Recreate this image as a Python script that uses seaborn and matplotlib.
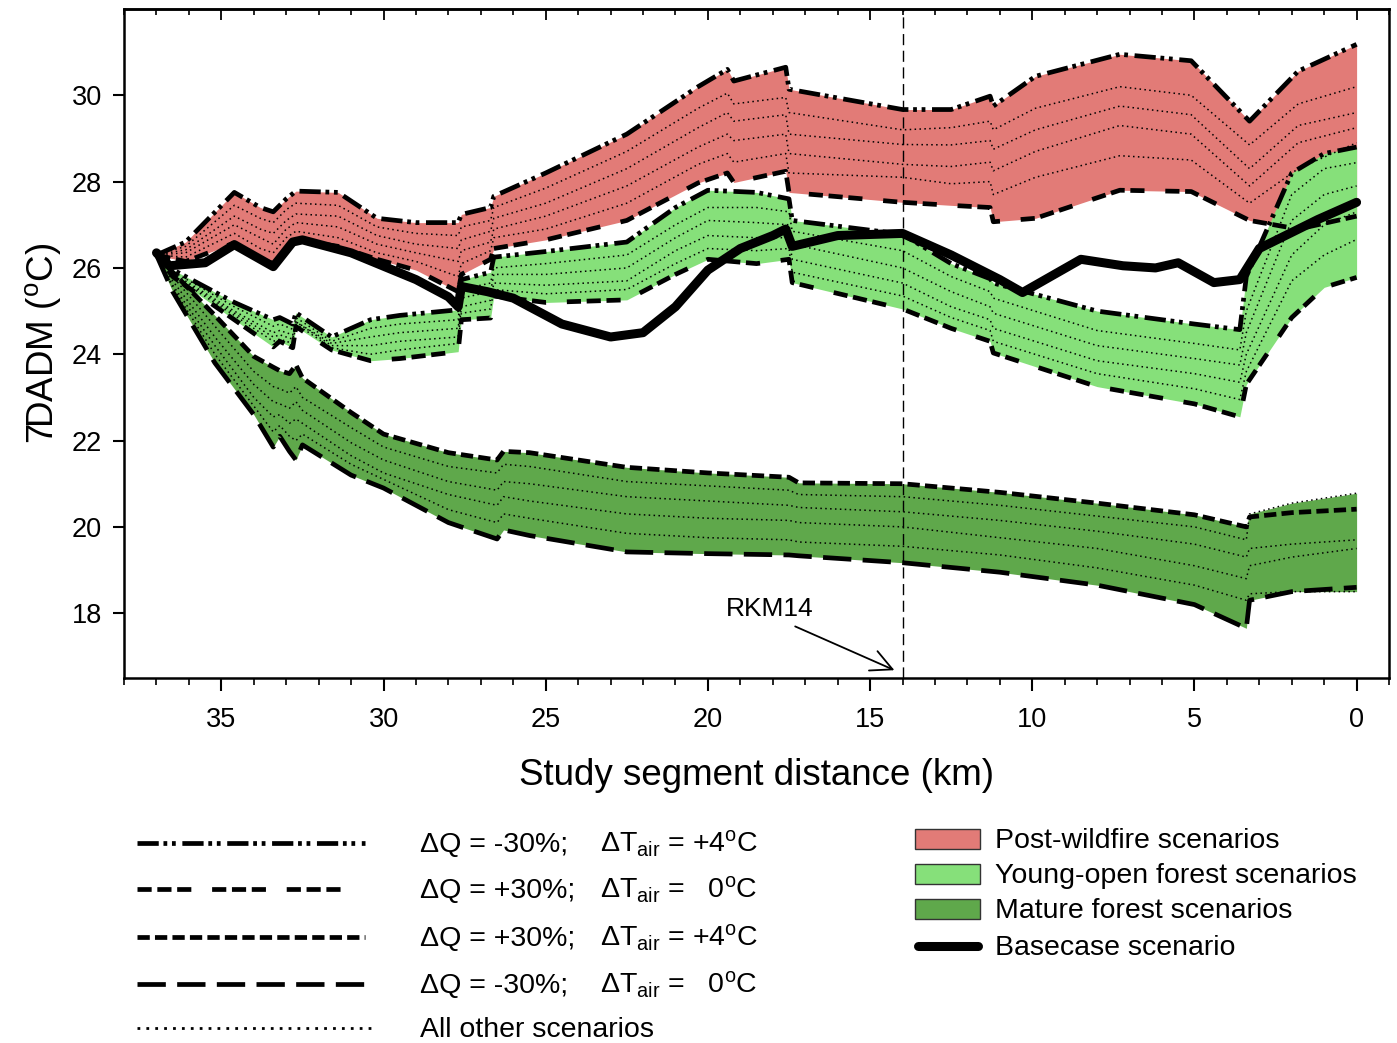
import numpy as np
import matplotlib
matplotlib.use('Agg')
import matplotlib.pyplot as plt
import seaborn as sns
from matplotlib.lines import Line2D
from matplotlib.patches import Rectangle
from matplotlib.ticker import MultipleLocator

# ---- Post-wildfire scenarios (red band) ----
fire_km = [37, 36.1, 34.6, 33.8, 33.4, 33.0, 32.7, 31.4, 30.2, 29.0, 27.7, 27.6, 26.7, 26.6, 25.0,
           22.5, 20.3, 19.4, 19.2, 17.6, 17.5, 14.0, 12.5, 11.3, 11.2, 9.9, 7.3, 5.1, 3.3, 1.8, 0.0]
fire_m30_p4 = [26.3, 26.6, 27.75, 27.4, 27.3, 27.6, 27.78, 27.75, 27.15, 27.05, 27.05, 27.24, 27.4, 27.66, 28.2,
               29.1, 30.2, 30.6, 30.33, 30.65, 30.14, 29.67, 29.67, 29.98, 29.75, 30.44, 30.95, 30.8, 29.4, 30.56, 31.18]
fire_p30_0 = [26.3, 26.15, 26.58, 26.2, 26.1, 26.5, 26.65, 26.5, 26.2, 25.95, 25.45, 25.85, 26.2, 26.45, 26.65,
              27.1, 27.97, 28.2, 27.98, 28.24, 27.75, 27.52, 27.45, 27.4, 27.07, 27.15, 27.8, 27.77, 27.1, 26.9, 27.2]
fire_other1 = [26.3, 26.5, 27.45, 27.15, 27.05, 27.35, 27.5, 27.45, 26.95, 26.8, 26.75, 26.95, 27.1, 27.4, 27.85,
               28.7, 29.7, 30.05, 29.8, 29.95, 29.6, 29.2, 29.25, 29.4, 29.2, 29.7, 30.2, 30.0, 28.85, 29.8, 30.2]
fire_other2 = [26.3, 26.42, 27.2, 26.9, 26.8, 27.1, 27.25, 27.2, 26.75, 26.55, 26.45, 26.65, 26.85, 27.15, 27.5,
               28.3, 29.25, 29.6, 29.4, 29.55, 29.1, 28.86, 28.85, 28.95, 28.75, 29.2, 29.75, 29.55, 28.3, 29.3, 29.6]
fire_other3 = [26.3, 26.35, 27.0, 26.7, 26.55, 26.9, 27.05, 26.95, 26.55, 26.35, 26.15, 26.4, 26.6, 26.9, 27.2,
               27.9, 28.8, 29.1, 28.95, 29.1, 28.65, 28.4, 28.35, 28.45, 28.25, 28.7, 29.3, 29.1, 27.9, 28.9, 29.25]
fire_other4 = [26.3, 26.25, 26.8, 26.45, 26.35, 26.7, 26.85, 26.7, 26.35, 26.15, 25.8, 26.1, 26.4, 26.7, 26.9,
               27.5, 28.4, 28.65, 28.45, 28.65, 28.2, 28.1, 27.95, 28.0, 27.7, 28.1, 28.6, 28.5, 27.5, 28.3, 28.9]

# ---- Young-open forest scenarios (light green band) ----
young_km = [37, 36.5, 34.6, 33.4, 33.2, 32.8, 32.7, 31.6, 30.4, 29.5, 27.7, 27.6, 26.7, 26.6, 25.0, 22.5,
            21.0, 20.0, 18.5, 17.5, 17.4, 14.0, 12.5, 11.3, 11.2, 8.0, 5.0, 3.6, 3.4, 2.0, 1.0, 0.0]
young_m30_p4 = [26.3, 25.96, 25.2, 24.8, 24.85, 24.7, 24.96, 24.4, 24.8, 24.9, 25.03, 25.73, 25.9, 26.25, 26.38, 26.6,
                27.4, 27.8, 27.75, 27.6, 27.1, 26.78, 26.1, 25.75, 25.65, 25.0, 24.7, 24.57, 25.8, 28.2, 28.65, 28.8]
young_p30_0 = [26.3, 25.8, 24.8, 24.17, 24.3, 24.15, 24.64, 24.1, 23.85, 23.9, 24.06, 24.8, 24.84, 25.35, 25.2, 25.26,
               25.85, 26.2, 26.1, 26.2, 25.66, 25.05, 24.6, 24.3, 24.03, 23.25, 22.85, 22.55, 23.3, 24.85, 25.55, 25.78]
young_other1 = [26.3, 25.92, 25.1, 24.65, 24.7, 24.58, 24.85, 24.3, 24.6, 24.7, 24.8, 25.5, 25.65, 26.0, 26.1, 26.3,
                27.0, 27.4, 27.4, 27.3, 26.85, 26.4, 25.8, 25.45, 25.3, 24.55, 24.25, 24.1, 25.0, 27.7, 28.3, 28.44]
young_other2 = [26.3, 25.88, 25.0, 24.5, 24.55, 24.45, 24.75, 24.25, 24.4, 24.5, 24.6, 25.3, 25.45, 25.85, 25.85, 26.0,
                26.7, 27.1, 27.05, 27.0, 26.55, 26.0, 25.45, 25.1, 24.95, 24.2, 23.9, 23.75, 24.5, 27.1, 27.7, 27.9]
young_other3 = [26.3, 25.85, 24.95, 24.4, 24.45, 24.35, 24.75, 24.2, 24.2, 24.3, 24.4, 25.1, 25.25, 25.65, 25.6, 25.7,
                26.4, 26.75, 26.7, 26.7, 26.2, 25.65, 25.1, 24.8, 24.6, 23.85, 23.55, 23.35, 24.0, 26.3, 27.0, 27.3]
young_other4 = [26.3, 25.82, 24.9, 24.3, 24.35, 24.25, 24.7, 24.15, 24.0, 24.1, 24.25, 24.95, 25.05, 25.5, 25.4, 25.5,
                26.1, 26.45, 26.4, 26.45, 25.9, 25.35, 24.85, 24.55, 24.3, 23.55, 23.2, 22.95, 23.6, 25.7, 26.3, 26.66]

# ---- Mature forest scenarios (dark green band) ----
mature_km = [37, 36.5, 35.2, 34.0, 33.4, 33.2, 32.9, 32.7, 32.5, 31.0, 30.0, 28.0, 26.5, 26.3, 25.5, 22.5,
             20.0, 17.5, 17.2, 14.0, 11.0, 8.0, 5.0, 3.4, 3.3, 2.0, 0.0]
mature_p30_p4 = [26.3, 25.9, 24.9, 23.95, 23.7, 23.62, 23.55, 23.75, 23.45, 22.65, 22.15, 21.72, 21.55, 21.75, 21.72, 21.38,
                 21.25, 21.15, 21.02, 21.0, 20.8, 20.55, 20.28, 20.0, 20.23, 20.33, 20.41]
mature_m30_0 = [26.3, 25.45, 23.8, 22.6, 21.85, 22.1, 21.75, 21.55, 21.9, 21.2, 20.9, 20.1, 19.72, 19.93, 19.8, 19.42,
                19.38, 19.35, 19.33, 19.17, 18.95, 18.65, 18.2, 17.65, 18.3, 18.5, 18.6]
mature_other1 = [26.3, 25.8, 24.65, 23.6, 23.25, 23.2, 23.1, 23.25, 23.0, 22.3, 21.85, 21.4, 21.25, 21.45, 21.4, 21.05,
                 20.95, 20.85, 20.75, 20.7, 20.5, 20.25, 20.0, 19.7, 20.3, 20.55, 20.78]
mature_other2 = [26.3, 25.7, 24.4, 23.3, 22.9, 22.85, 22.75, 22.9, 22.7, 21.95, 21.55, 21.05, 20.85, 21.05, 21.0, 20.7,
                 20.6, 20.5, 20.45, 20.35, 20.15, 19.9, 19.6, 19.3, 19.5, 19.6, 19.7]
mature_other3 = [26.3, 25.6, 24.2, 23.0, 22.55, 22.6, 22.4, 22.5, 22.4, 21.65, 21.25, 20.75, 20.5, 20.7, 20.6, 20.3,
                 20.2, 20.15, 20.1, 20.0, 19.75, 19.5, 19.1, 18.8, 19.1, 19.3, 19.5]
mature_other4 = [26.3, 25.55, 24.0, 22.8, 22.2, 22.35, 22.1, 22.0, 22.15, 21.45, 21.1, 20.4, 20.1, 20.3, 20.2, 19.85,
                 19.75, 19.7, 19.65, 19.55, 19.35, 19.05, 18.65, 18.3, 18.45, 18.5, 18.5]

# ---- Basecase scenario ----
base_km = [37, 36.6, 35.5, 34.6, 33.4, 32.8, 32.5, 31.0, 29.0, 28.0, 27.7, 27.6, 26.8, 26.0, 24.5, 23.0, 22.0,
           21.0, 20.0, 19.0, 18.0, 17.6, 17.4, 16.0, 14.0, 12.5, 11.0, 10.3, 8.5, 7.2, 6.2, 5.5, 4.4, 3.6, 3.0, 1.2, 0]
base_temp = [26.35, 26.05, 26.12, 26.54, 26.03, 26.6, 26.65, 26.35, 25.73, 25.33, 25.1, 25.57, 25.45, 25.3, 24.7, 24.4, 24.5,
             25.1, 25.95, 26.45, 26.75, 26.9, 26.5, 26.75, 26.8, 26.3, 25.73, 25.43, 26.2, 26.05, 26.0, 26.12, 25.66, 25.73,
             26.45, 27.12, 27.52]

rkm_mark = 14

# line styles for the scenario boundaries (dash units scale with linewidth)
STYLES = {
    'm30_p4': (0, (4.5, 1.0, 0.8, 1.0, 0.8, 1.4)),
    'p30_0': (0, (3, 1.2, 3, 1.2, 3, 4.4)),
    'p30_p4': (0, (2.6, 1.1)),
    'm30_0': (0, (6, 2.4)),
    'other': (0, (1, 2.2)),
}
FIRE_C = '#E27B77'
YOUNG_C = '#86E07A'
MATURE_C = '#5FA84B'

sns.set_theme(style='ticks')
plt.rcParams['font.family'] = ['Liberation Sans', 'DejaVu Sans']
plt.rcParams['mathtext.fontset'] = 'custom'
plt.rcParams['mathtext.rm'] = 'Liberation Sans'
plt.rcParams['mathtext.it'] = 'Liberation Sans'
plt.rcParams['mathtext.default'] = 'regular'
for k in ['text.color', 'axes.labelcolor', 'xtick.color', 'ytick.color', 'axes.edgecolor']:
    plt.rcParams[k] = 'black'

fig = plt.figure(figsize=(13.97, 10.43), dpi=100)
ax = fig.add_axes([0.0888, 0.350, 0.9055, 0.6414])


def draw_band(km, bounds, others, color):
    allv = np.vstack([b[0] for b in bounds] + others)
    ax.fill_between(km, allv.max(axis=0), allv.min(axis=0), color=color, lw=0, zorder=1)
    for o in others:
        sns.lineplot(x=km, y=o, ax=ax, estimator=None, sort=False, color='black',
                     lw=1.1, linestyle=STYLES['other'], zorder=2)
    for vals, key in bounds:
        sns.lineplot(x=km, y=vals, ax=ax, estimator=None, sort=False, color='black',
                     lw=3.4, linestyle=STYLES[key], zorder=3)


draw_band(fire_km, [(fire_m30_p4, 'm30_p4'), (fire_p30_0, 'p30_0')],
          [fire_other1, fire_other2, fire_other3, fire_other4], FIRE_C)
draw_band(mature_km, [(mature_p30_p4, 'p30_p4'), (mature_m30_0, 'm30_0')],
          [mature_other1, mature_other2, mature_other3, mature_other4], MATURE_C)
draw_band(young_km, [(young_m30_p4, 'm30_p4'), (young_p30_0, 'p30_0')],
          [young_other1, young_other2, young_other3, young_other4], YOUNG_C)

sns.lineplot(x=base_km, y=base_temp, ax=ax, estimator=None, sort=False, color='black',
             lw=6.5, zorder=5, solid_capstyle='round', solid_joinstyle='round')

ax.axvline(rkm_mark, color='black', lw=1.0, linestyle=(0, (8, 4)), zorder=6)
ax.annotate('RKM14', xy=(rkm_mark + 0.25, 16.68), xytext=(18.1, 18.1),
            fontsize=19, ha='center', va='center',
            arrowprops=dict(arrowstyle='->', lw=1.3, color='black', mutation_scale=38,
                            relpos=(0.65, 0.0), shrinkA=4, shrinkB=0))

ax.set_xlim(38, -1)
ax.set_ylim(16.5, 32)
ax.xaxis.set_major_locator(MultipleLocator(5))
ax.xaxis.set_minor_locator(MultipleLocator(1))
ax.set_yticks([18, 20, 22, 24, 26, 28, 30])
ax.tick_params(axis='x', which='major', direction='out', length=9, width=1.5, labelsize=19.5, pad=12)
ax.tick_params(axis='x', which='minor', direction='out', length=5, width=1.2)
ax.tick_params(axis='y', which='major', direction='out', length=8, width=1.5, labelsize=19.5, pad=8)
top = ax.secondary_xaxis('top')
top.xaxis.set_major_locator(MultipleLocator(5))
top.xaxis.set_minor_locator(MultipleLocator(1))
top.tick_params(axis='x', which='major', direction='in', length=8, width=1.3, labeltop=False)
top.tick_params(axis='x', which='minor', direction='in', length=4.5, width=1.2)
top.spines['top'].set_linewidth(1.8)
for s in ax.spines.values():
    s.set_linewidth(1.8)
    s.set_color('black')
ax.set_xlabel('Study segment distance (km)', fontsize=26.5, labelpad=18)
ax.set_ylabel('7DADM ($^{o}$C)', fontsize=26.5, labelpad=6)


# ---- legend drawn below the axes in figure pixels ----
W, H = 1397, 1043


def fx(px):
    return px / W


def fy(py):
    return 1 - py / H


left_rows = [
    ('m30_p4', 365, 'ΔQ = -30%;', 'ΔT$_{air}$ = +4$^{o}$C'),
    ('p30_0', 348, 'ΔQ = +30%;', 'ΔT$_{air}$ =   0$^{o}$C'),
    ('p30_p4', 365, 'ΔQ = +30%;', 'ΔT$_{air}$ = +4$^{o}$C'),
    ('m30_0', 365, 'ΔQ = -30%;', 'ΔT$_{air}$ =   0$^{o}$C'),
    ('other', 375, 'All other scenarios', None),
]
for i, (key, xend, lab1, lab2) in enumerate(left_rows):
    py = [843, 889, 937, 984, 1028][i]
    lw = 2.0 if key == 'other' else 3.4
    fig.add_artist(Line2D([fx(137), fx(xend)], [fy(py), fy(py)], color='black', lw=lw,
                          linestyle=STYLES[key], transform=fig.transFigure))
    fig.text(fx(420), fy(py + 9), lab1, fontsize=20.5, va='baseline', ha='left')
    if lab2:
        fig.text(fx(600), fy(py + 9), lab2, fontsize=20.5, va='baseline', ha='left')

patch_rows = [(FIRE_C, 'Post-wildfire scenarios'),
              (YOUNG_C, 'Young-open forest scenarios'),
              (MATURE_C, 'Mature forest scenarios')]
for i, (c, lab) in enumerate(patch_rows):
    py = [839, 874, 909][i]
    fig.add_artist(Rectangle((fx(915), fy(py + 10)), fx(980) - fx(915), (20 / H),
                             facecolor=c, edgecolor='#333333', lw=1.0, transform=fig.transFigure))
    fig.text(fx(995), fy(py + 9), lab, fontsize=20.5, va='baseline', ha='left')
fig.add_artist(Line2D([fx(918), fx(978)], [fy(946), fy(946)], color='black', lw=6.5,
                      solid_capstyle='round', transform=fig.transFigure))
fig.text(fx(995), fy(955), 'Basecase scenario', fontsize=20.5, va='baseline', ha='left')

fig.savefig('out.png', dpi=100)
